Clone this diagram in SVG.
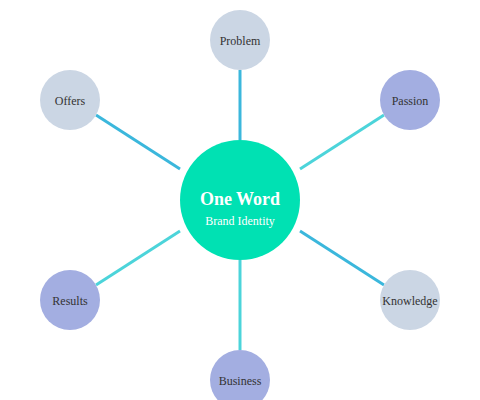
<svg xmlns="http://www.w3.org/2000/svg" width="480" height="400" viewBox="0 0 480 400">
<style>
.lb{stroke:#3bb7dc;stroke-width:3;fill:none}
.lc{stroke:#4cd4da;stroke-width:3;fill:none}
.grey{fill:#cbd6e4}
.purp{fill:#a3aee1}
.t{font-family:"Liberation Serif","DejaVu Serif",serif;font-size:12px;fill:#333;text-anchor:middle}
</style>
<rect width="480" height="400" fill="#fff"/>
<g id="connectors">
<line class="lb" x1="240" y1="70" x2="240" y2="140"/>
<line class="lc" x1="240" y1="260" x2="240" y2="350"/>
<line class="lb" x1="96" y1="115" x2="180" y2="169"/>
<line class="lc" x1="384" y1="115" x2="300" y2="169"/>
<line class="lc" x1="180" y1="231" x2="96" y2="285"/>
<line class="lb" x1="300" y1="231" x2="384" y2="285"/>
</g>
<g id="center">
<circle cx="240" cy="200" r="60" fill="#00e1b3"/>
<text x="240" y="205" font-family="Liberation Serif,serif" font-size="18" font-weight="bold" fill="#fff" text-anchor="middle">One Word</text>
<text x="240" y="225" font-family="Liberation Serif,serif" font-size="12" fill="#fff" text-anchor="middle">Brand Identity</text>
</g>
<g id="problem"><circle class="grey" cx="240" cy="40" r="30"/><text class="t" x="240" y="45">Problem</text></g>
<g id="offers"><circle class="grey" cx="70" cy="100" r="30"/><text class="t" x="70" y="105">Offers</text></g>
<g id="passion"><circle class="purp" cx="410" cy="100" r="30"/><text class="t" x="410" y="105">Passion</text></g>
<g id="results"><circle class="purp" cx="70" cy="300" r="30"/><text class="t" x="70" y="305">Results</text></g>
<g id="knowledge"><circle class="grey" cx="410" cy="300" r="30"/><text class="t" x="410" y="305">Knowledge</text></g>
<g id="business"><circle class="purp" cx="240" cy="380" r="30"/><text class="t" x="240" y="385">Business</text></g>
</svg>
